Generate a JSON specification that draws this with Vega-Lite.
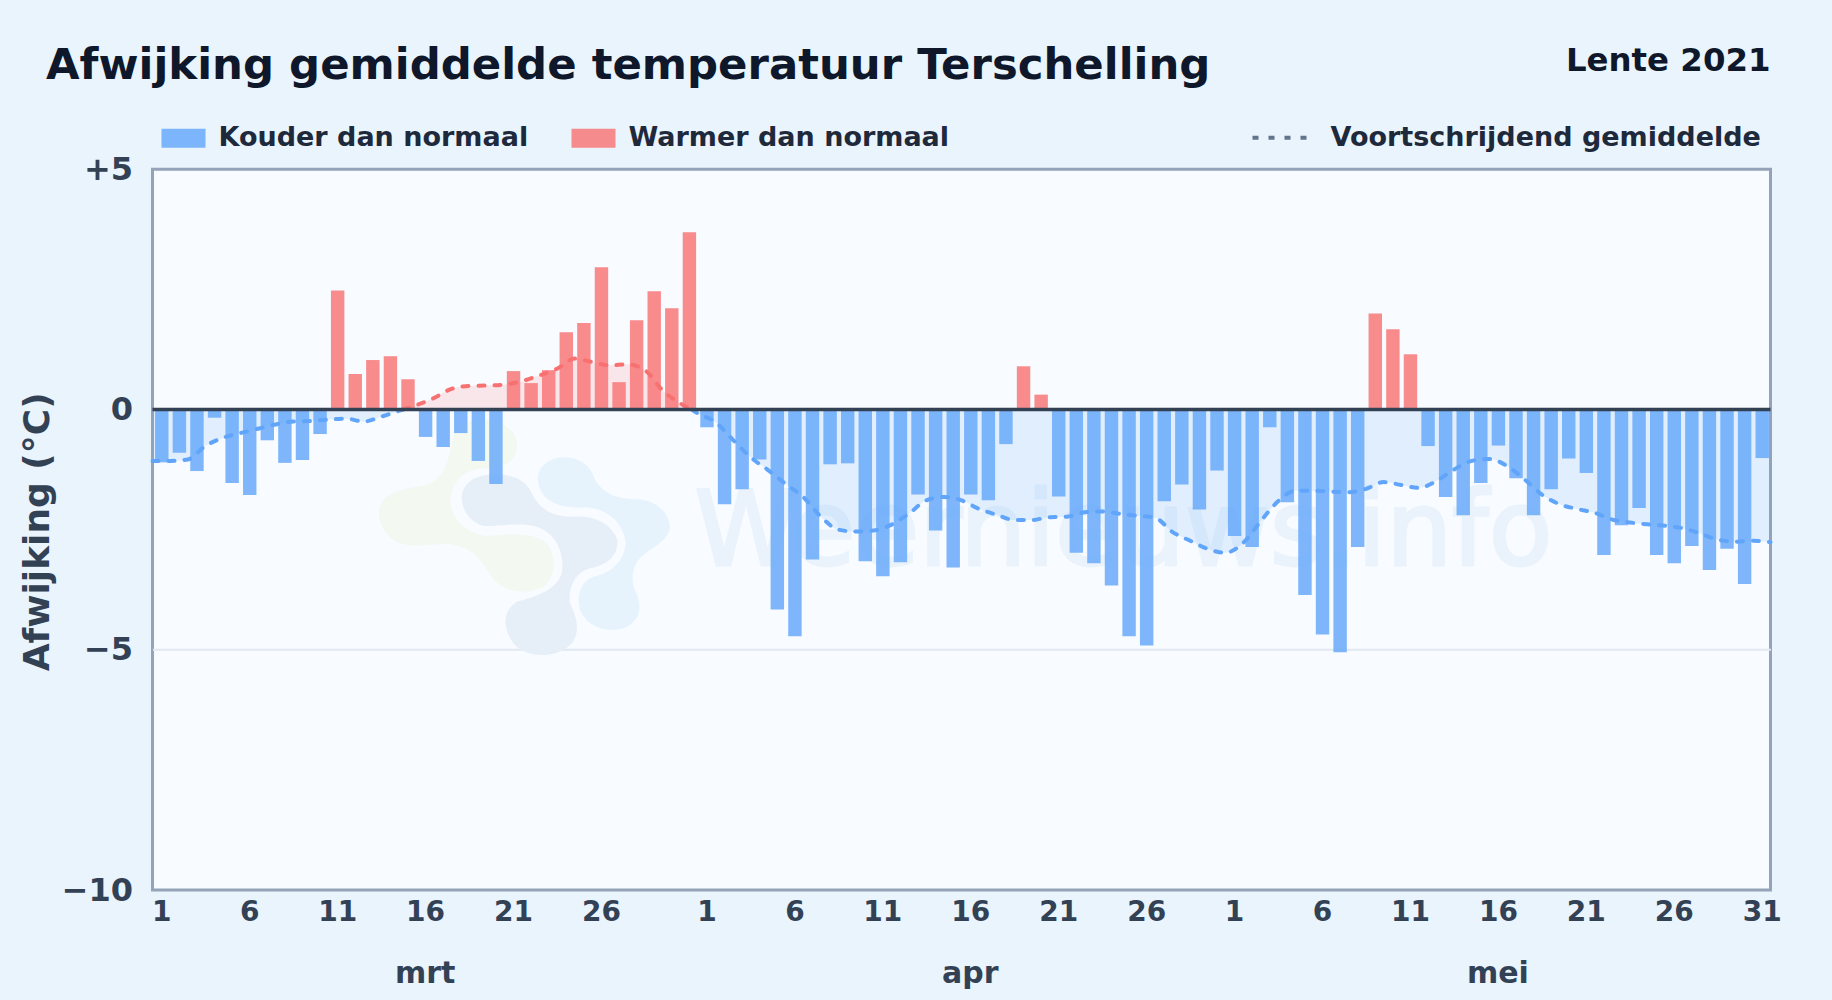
{"$schema":"https://vega.github.io/schema/vega-lite/v6.json","width":1618,"height":720.7,"autosize":"none","padding":{"left":152.5,"top":169.3,"right":61.5,"bottom":110},"background":"#e9f4fd","view":{"fill":"#f8fbff","stroke":"#94a3b8","strokeWidth":3},
"title":{"text":"Afwijking gemiddelde temperatuur Terschelling","anchor":"start","frame":"group","dx":-106.5,"dy":83,"offset":40,"fontSize":43.4,"font":"DejaVu Sans","fontWeight":"bold","color":"#0f172a"},
"config":{"font":"DejaVu Sans","axis":{"grid":false}},
"datasets":{
"daily":[
{"date":"2021-03-01","anomaly":-1.1,"kind":"Kouder dan normaal"},{"date":"2021-03-02","anomaly":-0.9,"kind":"Kouder dan normaal"},{"date":"2021-03-03","anomaly":-1.28,"kind":"Kouder dan normaal"},{"date":"2021-03-04","anomaly":-0.17,"kind":"Kouder dan normaal"},{"date":"2021-03-05","anomaly":-1.53,"kind":"Kouder dan normaal"},{"date":"2021-03-06","anomaly":-1.78,"kind":"Kouder dan normaal"},{"date":"2021-03-07","anomaly":-0.64,"kind":"Kouder dan normaal"},{"date":"2021-03-08","anomaly":-1.11,"kind":"Kouder dan normaal"},{"date":"2021-03-09","anomaly":-1.05,"kind":"Kouder dan normaal"},{"date":"2021-03-10","anomaly":-0.51,"kind":"Kouder dan normaal"},
{"date":"2021-03-11","anomaly":2.48,"kind":"Warmer dan normaal"},{"date":"2021-03-12","anomaly":0.74,"kind":"Warmer dan normaal"},{"date":"2021-03-13","anomaly":1.03,"kind":"Warmer dan normaal"},{"date":"2021-03-14","anomaly":1.11,"kind":"Warmer dan normaal"},{"date":"2021-03-15","anomaly":0.63,"kind":"Warmer dan normaal"},
{"date":"2021-03-16","anomaly":-0.57,"kind":"Kouder dan normaal"},{"date":"2021-03-17","anomaly":-0.78,"kind":"Kouder dan normaal"},{"date":"2021-03-18","anomaly":-0.49,"kind":"Kouder dan normaal"},{"date":"2021-03-19","anomaly":-1.07,"kind":"Kouder dan normaal"},{"date":"2021-03-20","anomaly":-1.55,"kind":"Kouder dan normaal"},
{"date":"2021-03-21","anomaly":0.8,"kind":"Warmer dan normaal"},{"date":"2021-03-22","anomaly":0.55,"kind":"Warmer dan normaal"},{"date":"2021-03-23","anomaly":0.82,"kind":"Warmer dan normaal"},{"date":"2021-03-24","anomaly":1.61,"kind":"Warmer dan normaal"},{"date":"2021-03-25","anomaly":1.8,"kind":"Warmer dan normaal"},{"date":"2021-03-26","anomaly":2.96,"kind":"Warmer dan normaal"},{"date":"2021-03-27","anomaly":0.57,"kind":"Warmer dan normaal"},{"date":"2021-03-28","anomaly":1.86,"kind":"Warmer dan normaal"},{"date":"2021-03-29","anomaly":2.46,"kind":"Warmer dan normaal"},{"date":"2021-03-30","anomaly":2.11,"kind":"Warmer dan normaal"},{"date":"2021-03-31","anomaly":3.69,"kind":"Warmer dan normaal"},
{"date":"2021-04-01","anomaly":-0.37,"kind":"Kouder dan normaal"},{"date":"2021-04-02","anomaly":-1.97,"kind":"Kouder dan normaal"},{"date":"2021-04-03","anomaly":-1.66,"kind":"Kouder dan normaal"},{"date":"2021-04-04","anomaly":-1.04,"kind":"Kouder dan normaal"},{"date":"2021-04-05","anomaly":-4.16,"kind":"Kouder dan normaal"},{"date":"2021-04-06","anomaly":-4.72,"kind":"Kouder dan normaal"},{"date":"2021-04-07","anomaly":-3.12,"kind":"Kouder dan normaal"},{"date":"2021-04-08","anomaly":-1.14,"kind":"Kouder dan normaal"},{"date":"2021-04-09","anomaly":-1.12,"kind":"Kouder dan normaal"},{"date":"2021-04-10","anomaly":-3.16,"kind":"Kouder dan normaal"},{"date":"2021-04-11","anomaly":-3.47,"kind":"Kouder dan normaal"},{"date":"2021-04-12","anomaly":-3.18,"kind":"Kouder dan normaal"},{"date":"2021-04-13","anomaly":-1.77,"kind":"Kouder dan normaal"},{"date":"2021-04-14","anomaly":-2.52,"kind":"Kouder dan normaal"},{"date":"2021-04-15","anomaly":-3.29,"kind":"Kouder dan normaal"},{"date":"2021-04-16","anomaly":-1.77,"kind":"Kouder dan normaal"},{"date":"2021-04-17","anomaly":-1.89,"kind":"Kouder dan normaal"},{"date":"2021-04-18","anomaly":-0.72,"kind":"Kouder dan normaal"},
{"date":"2021-04-19","anomaly":0.9,"kind":"Warmer dan normaal"},{"date":"2021-04-20","anomaly":0.31,"kind":"Warmer dan normaal"},
{"date":"2021-04-21","anomaly":-1.81,"kind":"Kouder dan normaal"},{"date":"2021-04-22","anomaly":-2.98,"kind":"Kouder dan normaal"},{"date":"2021-04-23","anomaly":-3.2,"kind":"Kouder dan normaal"},{"date":"2021-04-24","anomaly":-3.66,"kind":"Kouder dan normaal"},{"date":"2021-04-25","anomaly":-4.72,"kind":"Kouder dan normaal"},{"date":"2021-04-26","anomaly":-4.91,"kind":"Kouder dan normaal"},{"date":"2021-04-27","anomaly":-1.91,"kind":"Kouder dan normaal"},{"date":"2021-04-28","anomaly":-1.56,"kind":"Kouder dan normaal"},{"date":"2021-04-29","anomaly":-2.08,"kind":"Kouder dan normaal"},{"date":"2021-04-30","anomaly":-1.27,"kind":"Kouder dan normaal"},
{"date":"2021-05-01","anomaly":-2.63,"kind":"Kouder dan normaal"},{"date":"2021-05-02","anomaly":-2.86,"kind":"Kouder dan normaal"},{"date":"2021-05-03","anomaly":-0.37,"kind":"Kouder dan normaal"},{"date":"2021-05-04","anomaly":-1.93,"kind":"Kouder dan normaal"},{"date":"2021-05-05","anomaly":-3.86,"kind":"Kouder dan normaal"},{"date":"2021-05-06","anomaly":-4.68,"kind":"Kouder dan normaal"},{"date":"2021-05-07","anomaly":-5.05,"kind":"Kouder dan normaal"},{"date":"2021-05-08","anomaly":-2.86,"kind":"Kouder dan normaal"},
{"date":"2021-05-09","anomaly":2.0,"kind":"Warmer dan normaal"},{"date":"2021-05-10","anomaly":1.67,"kind":"Warmer dan normaal"},{"date":"2021-05-11","anomaly":1.15,"kind":"Warmer dan normaal"},
{"date":"2021-05-12","anomaly":-0.76,"kind":"Kouder dan normaal"},{"date":"2021-05-13","anomaly":-1.82,"kind":"Kouder dan normaal"},{"date":"2021-05-14","anomaly":-2.2,"kind":"Kouder dan normaal"},{"date":"2021-05-15","anomaly":-1.53,"kind":"Kouder dan normaal"},{"date":"2021-05-16","anomaly":-0.75,"kind":"Kouder dan normaal"},{"date":"2021-05-17","anomaly":-1.43,"kind":"Kouder dan normaal"},{"date":"2021-05-18","anomaly":-2.2,"kind":"Kouder dan normaal"},{"date":"2021-05-19","anomaly":-1.66,"kind":"Kouder dan normaal"},{"date":"2021-05-20","anomaly":-1.02,"kind":"Kouder dan normaal"},{"date":"2021-05-21","anomaly":-1.32,"kind":"Kouder dan normaal"},{"date":"2021-05-22","anomaly":-3.03,"kind":"Kouder dan normaal"},{"date":"2021-05-23","anomaly":-2.41,"kind":"Kouder dan normaal"},{"date":"2021-05-24","anomaly":-2.05,"kind":"Kouder dan normaal"},{"date":"2021-05-25","anomaly":-3.03,"kind":"Kouder dan normaal"},{"date":"2021-05-26","anomaly":-3.2,"kind":"Kouder dan normaal"},{"date":"2021-05-27","anomaly":-2.84,"kind":"Kouder dan normaal"},{"date":"2021-05-28","anomaly":-3.34,"kind":"Kouder dan normaal"},{"date":"2021-05-29","anomaly":-2.9,"kind":"Kouder dan normaal"},{"date":"2021-05-30","anomaly":-3.63,"kind":"Kouder dan normaal"},{"date":"2021-05-31","anomaly":-1.01,"kind":"Kouder dan normaal"}
],
"rolling":[
{"t":"2021-03-01","v":-1.07,"seg":1},{"t":"2021-03-02","v":-1.07,"seg":1},{"t":"2021-03-03","v":-1.04,"seg":1},{"t":"2021-03-04","v":-0.76,"seg":1},{"t":"2021-03-05","v":-0.59,"seg":1},{"t":"2021-03-06","v":-0.49,"seg":1},{"t":"2021-03-07","v":-0.4,"seg":1},{"t":"2021-03-08","v":-0.31,"seg":1},{"t":"2021-03-09","v":-0.25,"seg":1},{"t":"2021-03-10","v":-0.24,"seg":1},{"t":"2021-03-11","v":-0.21,"seg":1},{"t":"2021-03-12","v":-0.19,"seg":1},{"t":"2021-03-13","v":-0.25,"seg":1},{"t":"2021-03-14","v":-0.15,"seg":1},{"t":"2021-03-15","v":-0.03,"seg":1},{"t":"2021-03-15T06:00:00Z","v":0,"seg":1},
{"t":"2021-03-15T06:00:00Z","v":0,"seg":2},{"t":"2021-03-16","v":0.09,"seg":2},{"t":"2021-03-17","v":0.24,"seg":2},{"t":"2021-03-18","v":0.43,"seg":2},{"t":"2021-03-19","v":0.49,"seg":2},{"t":"2021-03-20","v":0.5,"seg":2},{"t":"2021-03-21","v":0.52,"seg":2},{"t":"2021-03-22","v":0.59,"seg":2},{"t":"2021-03-23","v":0.71,"seg":2},{"t":"2021-03-24","v":0.85,"seg":2},{"t":"2021-03-25","v":1.06,"seg":2},{"t":"2021-03-26","v":0.99,"seg":2},{"t":"2021-03-27","v":0.92,"seg":2},{"t":"2021-03-28","v":0.94,"seg":2},{"t":"2021-03-29","v":0.82,"seg":2},{"t":"2021-03-30","v":0.4,"seg":2},{"t":"2021-03-31","v":0.13,"seg":2},{"t":"2021-03-31T16:00:00Z","v":0,"seg":2},
{"t":"2021-03-31T16:00:00Z","v":0,"seg":3},{"t":"2021-04-01","v":-0.08,"seg":3},{"t":"2021-04-02","v":-0.26,"seg":3},{"t":"2021-04-03","v":-0.63,"seg":3},{"t":"2021-04-04","v":-0.99,"seg":3},{"t":"2021-04-05","v":-1.26,"seg":3},{"t":"2021-04-06","v":-1.55,"seg":3},{"t":"2021-04-07","v":-1.82,"seg":3},{"t":"2021-04-08","v":-2.23,"seg":3},{"t":"2021-04-09","v":-2.5,"seg":3},{"t":"2021-04-10","v":-2.54,"seg":3},{"t":"2021-04-11","v":-2.52,"seg":3},{"t":"2021-04-12","v":-2.4,"seg":3},{"t":"2021-04-13","v":-2.17,"seg":3},{"t":"2021-04-14","v":-1.89,"seg":3},{"t":"2021-04-15","v":-1.82,"seg":3},{"t":"2021-04-16","v":-1.89,"seg":3},{"t":"2021-04-17","v":-2.07,"seg":3},{"t":"2021-04-18","v":-2.19,"seg":3},{"t":"2021-04-19","v":-2.3,"seg":3},{"t":"2021-04-20","v":-2.3,"seg":3},{"t":"2021-04-21","v":-2.24,"seg":3},{"t":"2021-04-22","v":-2.23,"seg":3},{"t":"2021-04-23","v":-2.14,"seg":3},{"t":"2021-04-24","v":-2.12,"seg":3},{"t":"2021-04-25","v":-2.17,"seg":3},{"t":"2021-04-26","v":-2.21,"seg":3},{"t":"2021-04-27","v":-2.25,"seg":3},{"t":"2021-04-28","v":-2.55,"seg":3},{"t":"2021-04-29","v":-2.73,"seg":3},{"t":"2021-04-30","v":-2.9,"seg":3},{"t":"2021-05-01","v":-2.98,"seg":3},{"t":"2021-05-02","v":-2.78,"seg":3},{"t":"2021-05-03","v":-2.33,"seg":3},{"t":"2021-05-04","v":-1.91,"seg":3},{"t":"2021-05-05","v":-1.69,"seg":3},{"t":"2021-05-06","v":-1.69,"seg":3},{"t":"2021-05-07","v":-1.71,"seg":3},{"t":"2021-05-08","v":-1.72,"seg":3},{"t":"2021-05-09","v":-1.65,"seg":3},{"t":"2021-05-10","v":-1.51,"seg":3},{"t":"2021-05-11","v":-1.57,"seg":3},{"t":"2021-05-12","v":-1.63,"seg":3},{"t":"2021-05-13","v":-1.49,"seg":3},{"t":"2021-05-14","v":-1.25,"seg":3},{"t":"2021-05-15","v":-1.07,"seg":3},{"t":"2021-05-16","v":-1.03,"seg":3},{"t":"2021-05-17","v":-1.17,"seg":3},{"t":"2021-05-18","v":-1.45,"seg":3},{"t":"2021-05-19","v":-1.77,"seg":3},{"t":"2021-05-20","v":-1.97,"seg":3},{"t":"2021-05-21","v":-2.07,"seg":3},{"t":"2021-05-22","v":-2.15,"seg":3},{"t":"2021-05-23","v":-2.29,"seg":3},{"t":"2021-05-24","v":-2.35,"seg":3},{"t":"2021-05-25","v":-2.39,"seg":3},{"t":"2021-05-26","v":-2.42,"seg":3},{"t":"2021-05-27","v":-2.47,"seg":3},{"t":"2021-05-28","v":-2.58,"seg":3},{"t":"2021-05-29","v":-2.71,"seg":3},{"t":"2021-05-30","v":-2.75,"seg":3},{"t":"2021-05-31","v":-2.73,"seg":3},{"t":"2021-06-01","v":-2.76,"seg":3}
]},
"layer":[
{"data":{"values":[{"t":"2021-03-22T02:00:00Z","y":-2.647,"lobe":"groen"},{"t":"2021-03-22T02:00:00Z","y":-2.647,"lobe":"licht"},{"t":"2021-03-22T02:00:00Z","y":-2.647,"lobe":"donker"}]},"mark":{"type":"point","filled":true,"size":90000,"opacity":1,"strokeWidth":0},"encoding":{"x":{"field":"t","type":"temporal","scale":{"type":"utc","domain":["2021-03-01T00:00:00Z","2021-06-01T00:00:00Z"]},"title":null,"axis":{"values":["2021-03-01T12:00:00Z","2021-03-06T12:00:00Z","2021-03-11T12:00:00Z","2021-03-16T12:00:00Z","2021-03-21T12:00:00Z","2021-03-26T12:00:00Z","2021-04-01T12:00:00Z","2021-04-06T12:00:00Z","2021-04-11T12:00:00Z","2021-04-16T12:00:00Z","2021-04-21T12:00:00Z","2021-04-26T12:00:00Z","2021-05-01T12:00:00Z","2021-05-06T12:00:00Z","2021-05-11T12:00:00Z","2021-05-16T12:00:00Z","2021-05-21T12:00:00Z","2021-05-26T12:00:00Z","2021-05-31T12:00:00Z"],"labelExpr":"''+utcdate(datum.value)","title":null,"domain":false,"ticks":false,"labelFontSize":28,"labelFontWeight":"bold","labelColor":"#334155","labelPadding":8,"labelOverlap":false,"labelFlush":false,"labelBound":false}},"y":{"field":"y","type":"quantitative","scale":{"domain":[-10,5],"nice":false},"axis":{"values":[5,0,-5,-10],"labelExpr":"datum.value>0?'+'+datum.value:(datum.value<0?'−'+abs(datum.value):'0')","grid":true,"gridColor":{"condition":{"test":"datum.value==-5","value":"#e2e8f0"},"value":"transparent"},"gridWidth":2,"domain":false,"ticks":false,"labelFontSize":32,"labelFontWeight":"bold","labelColor":"#334155","labelPadding":20,"title":"Afwijking (°C)","titleFontSize":36,"titleFontWeight":"bold","titleColor":"#334155","titleX":-96.5,"titleY":362}},"shape":{"field":"lobe","type":"nominal","legend":null,"scale":{"domain":["groen","donker","licht"],"range":["M-.333,-.778C-.156,-.8,-.022,-.711,-.044,-.578C-.056,-.489,-.156,-.456,-.267,-.456C-.4,-.444,-.467,-.378,-.489,-.244C-.478,-.111,-.378,-.022,-.244,-.004C-.089,-.022,.067,-.033,.156,.044C.222,.133,.222,.267,.133,.333C0,.4,-.156,.356,-.211,.267C-.267,.178,-.333,.067,-.489,.049C-.6,.044,-.711,.078,-.822,.044C-.933,0,-.978,-.111,-.956,-.2C-.922,-.3,-.8,-.322,-.667,-.338C-.533,-.378,-.5,-.489,-.478,-.622C-.456,-.711,-.422,-.756,-.333,-.778Z","M-.244,-.411C-.089,-.433,.022,-.378,.056,-.289C.111,-.178,.2,-.133,.333,-.133C.467,-.144,.589,-.089,.627,.022C.633,.133,.556,.189,.444,.211C.333,.244,.3,.356,.311,.444C.356,.533,.378,.622,.333,.7C.244,.811,.022,.822,-.067,.711C-.144,.6,-.133,.489,-.044,.433C.089,.4,.222,.356,.256,.244C.278,.111,.222,-.022,.089,-.067C-.022,-.1,-.156,-.067,-.267,-.071C-.356,-.1,-.411,-.178,-.411,-.267C-.4,-.356,-.333,-.4,-.244,-.411Z","M.267,-.529C.378,-.533,.456,-.467,.478,-.378C.533,-.289,.622,-.249,.756,-.249C.889,-.244,.978,-.156,.978,-.056C.956,.033,.867,.067,.8,.122C.733,.178,.711,.267,.744,.356C.8,.467,.778,.567,.667,.611C.556,.644,.422,.6,.378,.489C.356,.4,.378,.3,.467,.267C.578,.244,.667,.178,.684,.044C.667,-.089,.578,-.178,.422,-.196C.289,-.189,.156,-.211,.111,-.322C.067,-.422,.133,-.522,.267,-.529Z"]}},"fill":{"field":"lobe","type":"nominal","legend":null,"scale":{"domain":["groen","donker","licht"],"range":["#f3f8f1","#e6eff8","#e6f3fd"]}}}},
{"data":{"values":[{"t":"2021-04-25T05:00:00Z","y":-3.24,"label":"Weernieuws.info"}]},"mark":{"type":"text","fontSize":104,"fontWeight":"normal","color":"#eaf3fb","stroke":"#eaf3fb","strokeWidth":3,"font":"DejaVu Sans","align":"center","baseline":"alphabetic"},"encoding":{"x":{"field":"t","type":"temporal"},"y":{"field":"y","type":"quantitative"},"text":{"field":"label"}}},
{"data":{"name":"rolling"},"transform":[{"filter":"datum.seg==2"}],"mark":{"type":"area","interpolate":"monotone","fill":"#f87171","opacity":0.15},"encoding":{"x":{"field":"t","type":"temporal"},"y":{"field":"v","type":"quantitative","stack":null}}},
{"data":{"name":"rolling"},"transform":[{"filter":"datum.seg!=2"}],"mark":{"type":"area","interpolate":"monotone","fill":"#60a5fa","opacity":0.15},"encoding":{"x":{"field":"t","type":"temporal"},"y":{"field":"v","type":"quantitative","stack":null},"detail":{"field":"seg"}}},
{"data":{"name":"daily"},"mark":{"type":"bar","width":{"band":0.82},"opacity":0.8},"encoding":{"x":{"field":"date","type":"temporal","timeUnit":"utcyearmonthdate","bandPosition":0.5},"y":{"field":"anomaly","type":"quantitative","stack":null},"color":{"field":"kind","type":"nominal","scale":{"domain":["Kouder dan normaal","Warmer dan normaal"],"range":["#60a5fa","#f87171"]},"legend":{"title":null,"orient":"none","legendX":8,"legendY":-54,"direction":"horizontal","symbolType":"M-1,-0.43H1V0.43H-1Z","symbolSize":1936,"symbolOpacity":0.8,"labelFontSize":27,"labelFontWeight":"bold","labelColor":"#1e293b","labelLimit":0,"columnPadding":42,"labelOffset":12}}}},
{"data":{"name":"rolling"},"transform":[{"filter":"datum.seg==2"}],"mark":{"type":"line","interpolate":"monotone","stroke":"#f87171","strokeWidth":4,"strokeDash":[6,10],"strokeCap":"round"},"encoding":{"x":{"field":"t","type":"temporal"},"y":{"field":"v","type":"quantitative"}}},
{"data":{"name":"rolling"},"transform":[{"filter":"datum.seg!=2"}],"mark":{"type":"line","interpolate":"monotone","stroke":"#60a5fa","strokeWidth":4,"strokeCap":"round"},"encoding":{"x":{"field":"t","type":"temporal"},"y":{"field":"v","type":"quantitative"},"detail":{"field":"seg"},"strokeDash":{"datum":"Voortschrijdend gemiddelde","scale":{"domain":["Voortschrijdend gemiddelde"],"range":[[6,10]]},"legend":{"title":null,"orient":"none","legendX":1098,"legendY":-62,"symbolType":"stroke","symbolStrokeColor":"#64748b","symbolStrokeWidth":4,"symbolSize":3249,"labelFontSize":27,"labelFontWeight":"bold","labelColor":"#1e293b","labelOffset":19,"labelLimit":0}}}},
{"data":{"values":[{"y":0}]},"mark":{"type":"rule","color":"#334155","strokeWidth":3.5},"encoding":{"y":{"field":"y","type":"quantitative"}}},
{"data":{"values":[{"t":"2021-03-16T12:00:00Z","m":"mrt"},{"t":"2021-04-16T12:00:00Z","m":"apr"},{"t":"2021-05-16T12:00:00Z","m":"mei"}]},"mark":{"type":"text","fontSize":30,"fontWeight":"bold","color":"#334155","baseline":"middle","align":"center","clip":false,"dy":84},"encoding":{"x":{"field":"t","type":"temporal"},"y":{"datum":-10},"text":{"field":"m"}}},
{"data":{"values":[{"t":"2021-06-01T00:00:00Z","label":"Lente 2021"}]},"mark":{"type":"text","fontSize":32.4,"fontWeight":"bold","color":"#0f172a","baseline":"middle","align":"right","dy":-108},"encoding":{"x":{"field":"t","type":"temporal"},"y":{"datum":5},"text":{"field":"label"}}}
]}
